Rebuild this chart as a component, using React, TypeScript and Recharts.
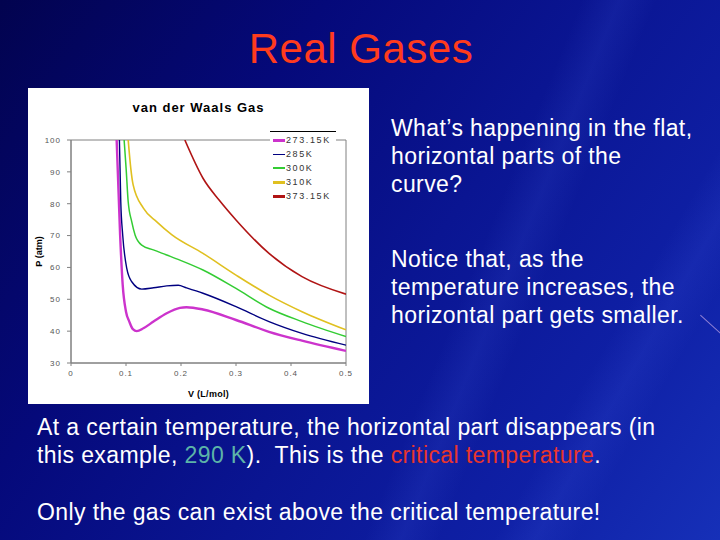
import React from "react";
import { LineChart, Line, XAxis, YAxis, ReferenceArea } from "recharts";

// ---- data ----
const v273 = [0.083, 0.0893, 0.094, 0.1, 0.106, 0.1125, 0.1196, 0.1316, 0.15, 0.174, 0.198, 0.21, 0.24, 0.3, 0.36, 0.42, 0.5];
const p273 = [100, 70.2, 54.5, 46.1, 43.0, 40.6, 40.0, 40.9, 43.0, 45.6, 47.3, 47.5, 46.8, 43.5, 39.8, 37.0, 33.8];

const v285 = [0.088, 0.0905, 0.094, 0.1014, 0.1105, 0.1286, 0.15, 0.174, 0.195, 0.21, 0.24, 0.3, 0.36, 0.42, 0.5];
const p285 = [100, 80.6, 70.2, 59.7, 55.5, 53.2, 53.6, 54.2, 54.4, 53.6, 51.9, 47.7, 43.0, 39.3, 35.6];

const v300 = [0.0966, 0.1002, 0.104, 0.1105, 0.1165, 0.1286, 0.1497, 0.174, 0.198, 0.24, 0.3, 0.36, 0.42, 0.5];
const p300 = [100, 91.1, 80.6, 74.3, 70.2, 67.0, 65.5, 63.9, 62.3, 59.2, 53.4, 47.2, 43.0, 38.3];

const v310 = [0.104, 0.1087, 0.113, 0.1316, 0.156, 0.183, 0.24, 0.3, 0.36, 0.42, 0.5];
const p310 = [100, 91.1, 85.9, 78.6, 74.3, 70.3, 64.4, 57.6, 51.3, 46.1, 40.4];

const v373 = [0.207, 0.24, 0.27, 0.3, 0.36, 0.42, 0.5];
const p373 = [100, 88.0, 81.0, 74.9, 64.4, 57.1, 51.6];

const seriesNames = ["273.15K", "285K", "300K", "310K", "373.15K"];
const seriesColors = ["#cc33cc", "#000080", "#33cc33", "#e0c020", "#b01414"];
const seriesWidths = [2.4, 1.4, 1.5, 1.6, 1.6];
const legendWidths = [3, 1, 1.5, 3, 3];

const xTicks = [0, 0.1, 0.2, 0.3, 0.4, 0.5];
const yTicks = [30, 40, 50, 60, 70, 80, 90, 100];

const zip = (vs: number[], ps: number[]) => vs.map((v, i) => ({ v, p: ps[i] }));
const seriesData = [zip(v273, p273), zip(v285, p285), zip(v300, p300), zip(v310, p310), zip(v373, p373)];

const FONT = "'Liberation Sans', Arial, sans-serif";

const LegendBox = () => (
  <div
    style={{
      position: "absolute",
      left: 242,
      top: 43,
      width: 66,
      height: 74,
      background: "#fff",
      borderTop: "1px solid #000",
      boxSizing: "border-box",
      paddingTop: 1,
      fontFamily: FONT,
    }}
  >
    {seriesNames.map((n, i) => (
      <div key={n} style={{ height: 14, display: "flex", alignItems: "center", whiteSpace: "nowrap" }}>
        <div style={{ marginLeft: 3, width: 12, height: legendWidths[i], background: seriesColors[i] }} />
        <span style={{ marginLeft: 1, fontSize: 9, color: "#333", letterSpacing: 1.6 }}>{n}</span>
      </div>
    ))}
  </div>
);

const textStyle: React.CSSProperties = {
  position: "absolute",
  fontFamily: FONT,
  fontSize: 23,
  lineHeight: "28px",
  letterSpacing: 0.4,
  color: "#ffffff",
  whiteSpace: "nowrap",
};

export default function App() {
  return (
    <div
      style={{
        position: "absolute",
        left: 0,
        top: 0,
        width: 720,
        height: 540,
        overflow: "hidden",
        background:
          "linear-gradient(112deg, rgba(0,0,0,0) 62%, rgba(90,120,255,0.10) 66%, rgba(0,0,0,0) 70%), linear-gradient(120deg, rgba(0,0,0,0) 78%, rgba(90,120,255,0.10) 82%, rgba(0,0,0,0) 86%), linear-gradient(125deg, #02034f 0%, #05097a 30%, #0a1592 55%, #0f20a6 80%, #1630b8 100%)",
      }}
    >
      <div
        style={{
          position: "absolute",
          left: 0,
          top: 28,
          width: 722,
          textAlign: "center",
          fontFamily: FONT,
          fontSize: 42,
          lineHeight: "42px",
          letterSpacing: 0.5,
          color: "#ff3b1d",
        }}
      >
        Real Gases
      </div>

      <div style={{ position: "absolute", left: 28, top: 88, width: 341, height: 316, background: "#fff" }}>
        <div
          style={{
            position: "absolute",
            left: 0,
            top: 12,
            width: 341,
            textAlign: "center",
            fontFamily: FONT,
            fontWeight: "bold",
            fontSize: 13,
            letterSpacing: 1,
            color: "#000",
          }}
        >
          van der Waals Gas
        </div>
        <LineChart width={341} height={316} margin={{ top: 52, right: 23, bottom: 11, left: 1 }}>
          <XAxis
            type="number"
            dataKey="v"
            domain={[0, 0.5]}
            ticks={xTicks}
            allowDataOverflow
            height={30}
            tickSize={3}
            tickMargin={4}
            stroke="#808080"
            tick={{ fontSize: 8, fill: "#555", fontFamily: FONT, letterSpacing: 1 }}
            label={{
              value: "V (L/mol)",
              position: "insideBottom",
              offset: -4,
              style: { fontSize: 9, fontWeight: "bold", fill: "#000", fontFamily: FONT, letterSpacing: 0.3 },
            }}
          />
          <YAxis
            type="number"
            domain={[30, 100]}
            ticks={yTicks}
            allowDataOverflow
            width={42}
            tickSize={4}
            tickMargin={6}
            stroke="#808080"
            tick={{ fontSize: 8, fill: "#555", fontFamily: FONT, letterSpacing: 1 }}
            label={{
              value: "P (atm)",
              angle: -90,
              position: "insideLeft",
              offset: 9.5,
              style: { textAnchor: "middle", fontSize: 9, fontWeight: "bold", fill: "#000", fontFamily: FONT },
            }}
          />
          <ReferenceArea x1={0} x2={0.5} y1={30} y2={100} fill="none" stroke="#808080" strokeWidth={1} />
          {seriesData.map((d, i) => (
            <Line
              key={seriesNames[i]}
              data={d}
              dataKey="p"
              name={seriesNames[i]}
              type="monotone"
              stroke={seriesColors[i]}
              strokeWidth={seriesWidths[i]}
              dot={false}
              activeDot={false}
              isAnimationActive={false}
            />
          ))}
        </LineChart>
        <LegendBox />
      </div>

      <div style={{ ...textStyle, left: 391, top: 114 }}>
        What’s happening in the flat,
        <br />
        horizontal parts of the
        <br />
        curve?
      </div>
      <div style={{ ...textStyle, left: 391, top: 245 }}>
        Notice that, as the
        <br />
        temperature increases, the
        <br />
        horizontal part gets smaller.
      </div>
      <div style={{ ...textStyle, left: 37, top: 414, lineHeight: "27.5px" }}>
        At a certain temperature, the horizontal part disappears (in
        <br />
        this example, <span style={{ color: "#5cb4a8" }}>290 K</span>).&nbsp; This is the{" "}
        <span style={{ color: "#e8352c" }}>critical temperature</span>.
      </div>
      <div style={{ ...textStyle, left: 37, top: 498 }}>Only the gas can exist above the critical temperature!</div>
      <div
        style={{
          position: "absolute",
          left: 696,
          top: 326,
          width: 34,
          height: 1,
          background: "rgba(200,170,230,0.7)",
          transform: "rotate(42deg)",
        }}
      />
    </div>
  );
}
